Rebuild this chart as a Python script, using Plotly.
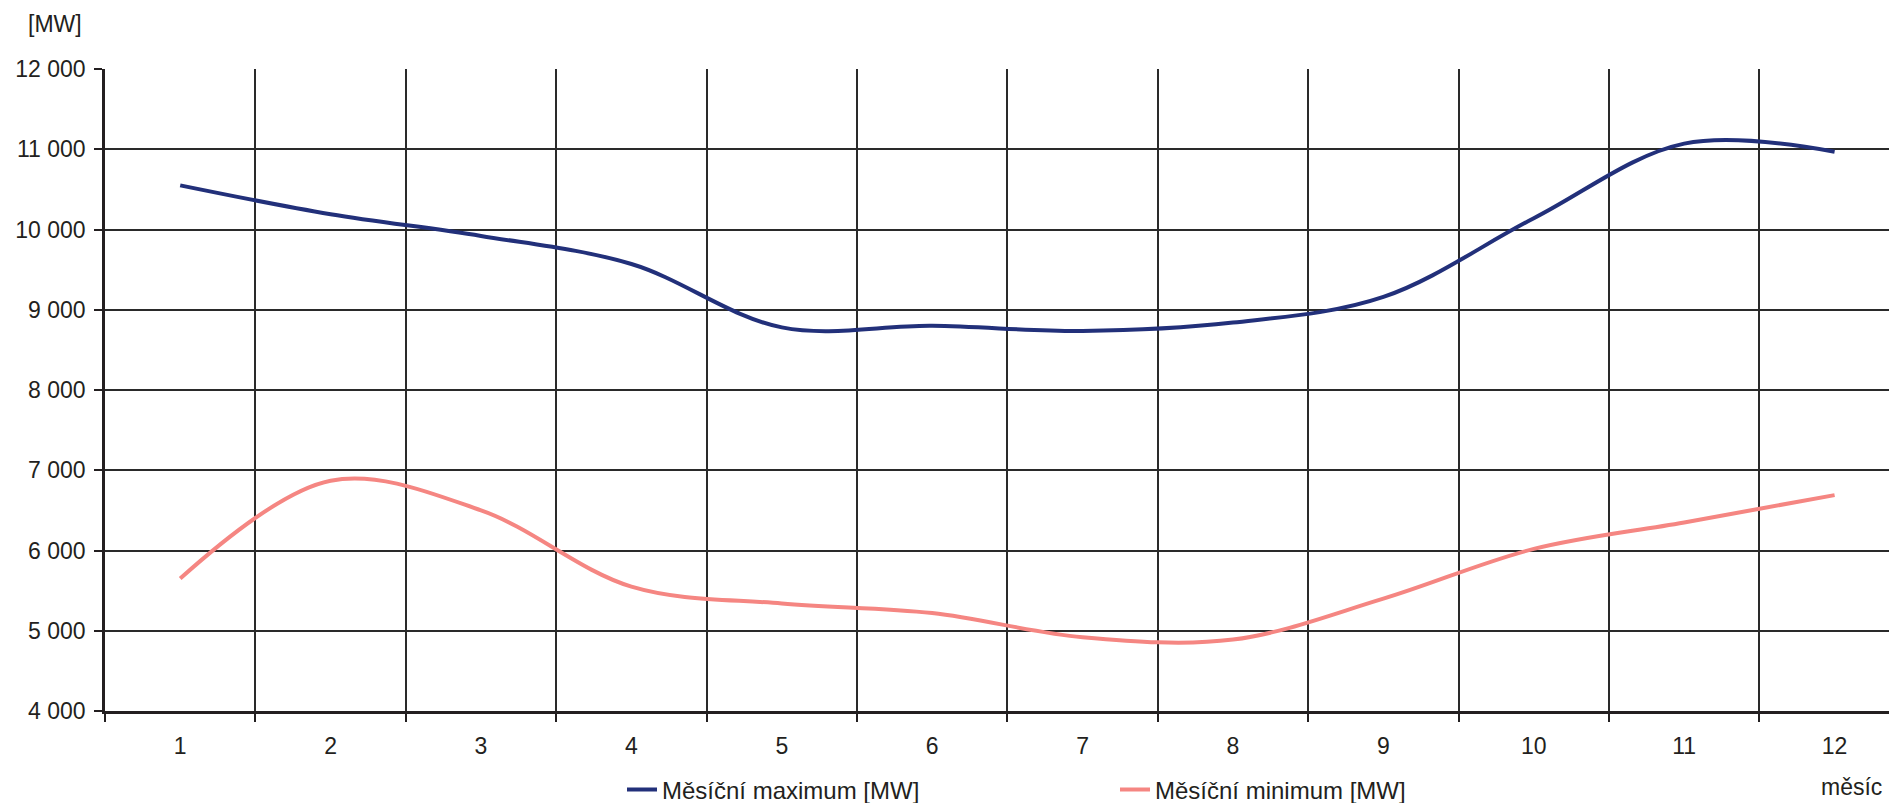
import plotly.graph_objects as go

months = [1, 2, 3, 4, 5, 6, 7, 8, 9, 10, 11, 12]
month_labels = ["1", "2", "3", "4", "5", "6", "7", "8", "9", "10", "11", "12"]
monthly_max = [10550, 10190, 9920, 9570, 8780, 8800, 8735, 8840, 9160, 10140, 11070, 10970]
monthly_min = [5650, 6870, 6500, 5550, 5340, 5220, 4920, 4890, 5400, 6020, 6350, 6690]
y_ticks = [4000, 5000, 6000, 7000, 8000, 9000, 10000, 11000, 12000]
y_tick_labels = ["4 000", "5 000", "6 000", "7 000", "8 000", "9 000", "10 000", "11 000", "12 000"]
name_max = "Měsíční maximum [MW]"
name_min = "Měsíční minimum [MW]"

FONT = "Liberation Sans, Arial, Helvetica, sans-serif"
OFF = 8  # default body margin of the page
W, H = 1897 - OFF, 803 - OFF
L, R, T = 105 - OFF, 0, 69 - OFF
B = H - (711 - OFF)
cat_px = 150.4
x_end = 0.5 + (W - L - R) / cat_px
PW, PH = W - L - R, H - T - B

fig = go.Figure()
fig.add_trace(go.Scatter(
    x=months, y=monthly_max, name=name_max, mode="lines",
    line=dict(color="#22307A", width=4, shape="spline", smoothing=1.0),
))
fig.add_trace(go.Scatter(
    x=months, y=monthly_min, name=name_min, mode="lines",
    line=dict(color="#F58682", width=4, shape="spline", smoothing=1.0),
))

fig.update_layout(
    width=W, height=H,
    margin=dict(l=L, r=R, t=T, b=B, pad=0),
    paper_bgcolor="white", plot_bgcolor="white",
    font=dict(family=FONT, size=23, color="#231F20"),
    showlegend=True,
    legend=dict(
        orientation="h", xref="container", yref="container",
        x=(622 - OFF) / W, y=(H - (790 - OFF)) / H, xanchor="left", yanchor="middle",
        entrywidth=448, entrywidthmode="pixels",
        font=dict(family=FONT, size=24, color="#231F20"),
        bgcolor="rgba(0,0,0,0)", itemwidth=30, tracegroupgap=0,
    ),
    xaxis=dict(
        range=[0.5, x_end], tickmode="array", tickvals=months, ticktext=month_labels,
        ticks="", showgrid=False, zeroline=False,
        showline=True, linecolor="#231F20", linewidth=2.5,
        ticklabelstandoff=13,
        minor=dict(tick0=0.5, dtick=1, tickmode="linear", ticks="outside", ticklen=8,
                   tickwidth=1.5, tickcolor="#231F20", showgrid=True,
                   gridcolor="#2A2A2A", gridwidth=1.5),
        fixedrange=True,
    ),
    yaxis=dict(
        range=[4000, 12000], tickmode="array", tickvals=y_ticks, ticktext=y_tick_labels,
        ticks="outside", ticklen=8, tickwidth=1.5, tickcolor="#231F20",
        showgrid=True, gridcolor="#2A2A2A", gridwidth=1.5, zeroline=False,
        showline=True, linecolor="#231F20", linewidth=2.5,
        ticklabelstandoff=4,
        fixedrange=True,
    ),
    annotations=[
        dict(text="[MW]", xref="paper", yref="paper", x=((55 - OFF) - L) / PW,
             y=1 + (T - (24 - OFF)) / PH, xanchor="center", yanchor="middle",
             showarrow=False, font=dict(family=FONT, size=23, color="#231F20")),
        dict(text="měsíc", xref="paper", yref="paper", x=((1884 - OFF) - L) / PW,
             y=-((787 - OFF) - (H - B)) / PH, xanchor="right", yanchor="middle",
             showarrow=False, font=dict(family=FONT, size=23, color="#231F20")),
    ],
)

fig.write_html("out.html")
